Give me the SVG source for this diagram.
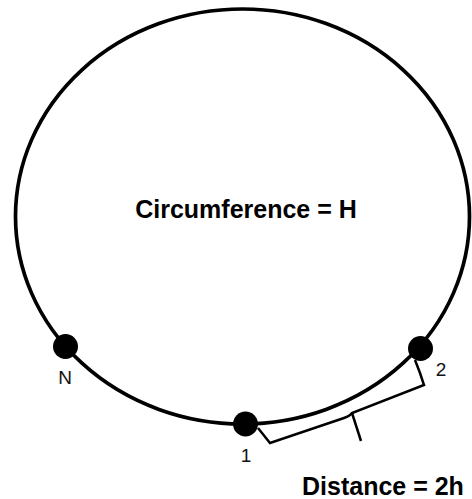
<svg xmlns="http://www.w3.org/2000/svg" width="472" height="499" viewBox="0 0 472 499">
<style>
.ring{fill:none;stroke:#000;stroke-width:3.7}
.dot{fill:#000}
.lbl{font-family:"Liberation Sans",Arial,sans-serif;font-size:19px;fill:#111}
.big{font-family:"Liberation Sans",Arial,sans-serif;font-size:25px;font-weight:bold;fill:#000}
.br{fill:none;stroke:#000;stroke-width:2.5;stroke-linejoin:miter}
</style>
<rect width="472" height="499" fill="#fff"/>
<g id="circle">
<ellipse class="ring" cx="242.5" cy="216.5" rx="227" ry="207.5"/>
<text class="big" x="246" y="218" text-anchor="middle">Circumference = H</text>
</g>
<g id="connectors">
<path class="br" d="M258,428 L270,443 L344,418 Q350,416 352,413 L424,385 L420,373 L415,360"/>
<path class="br" d="M352,413 L361,441"/>
</g>
<g id="nodeN">
<circle class="dot" cx="65.5" cy="346.5" r="12.5"/>
<text class="lbl" x="65" y="384" text-anchor="middle">N</text>
</g>
<g id="node1">
<circle class="dot" cx="245.5" cy="424" r="12.5"/>
<text class="lbl" x="246" y="462" text-anchor="middle">1</text>
</g>
<g id="node2">
<circle class="dot" cx="420.5" cy="348.5" r="12.5"/>
<text class="lbl" x="441" y="376" text-anchor="middle">2</text>
</g>
<g id="distance">
<text class="big" x="302" y="495">Distance = 2h</text>
</g>
</svg>
